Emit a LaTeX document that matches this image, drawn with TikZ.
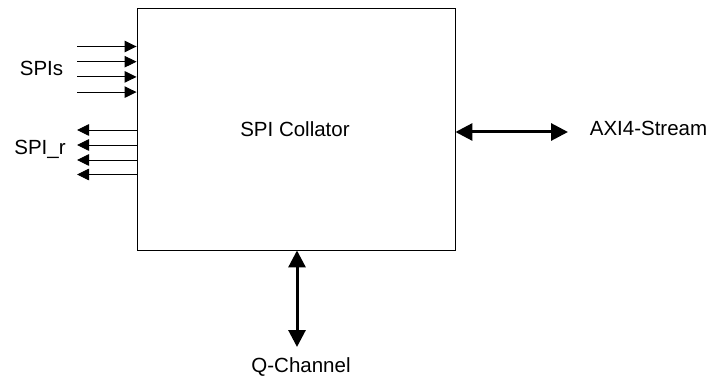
\documentclass[tikz,border=0pt]{standalone}
\usepackage{fontspec}
\setmainfont{Liberation Sans}
\usetikzlibrary{arrows.meta}
\begin{document}
\begin{tikzpicture}[x=1pt,y=1pt,
  lbl/.style={font=\fontsize{20.5}{24}\selectfont, inner sep=0pt, anchor=base},
  thinarrow/.style={line width=0.9pt, -{Triangle[length=12pt,width=11.5pt]}},
  thickarrow/.style={line width=3pt, {Triangle[length=17pt,width=17pt]}-{Triangle[length=17pt,width=17pt]}}]
\useasboundingbox (0,0) rectangle (723,386);
\node[draw, line width=0.9pt, minimum width=318, minimum height=242, inner sep=0pt] (box) at (296,257) {};
\node[lbl] (title) at (295,249.5) {SPI Collator};
\node[lbl] (spis) at (41.5,310) {SPIs};
\node[lbl] (spir) at (40,231.5) {SPI\_r};
\node[lbl] (axi) at (648.5,250) {AXI4-Stream};
\node[lbl] (qch) at (301,13.3) {Q-Channel};
% input arrows
\foreach \i/\y in {1/339.5, 2/324.3, 3/309.1, 4/293.9} {
  \coordinate (in\i) at (77,\y);
  \draw[thinarrow] (in\i) -- (in\i -| box.west);
}
% output arrows
\foreach \i/\y in {1/256, 2/241, 3/226, 4/211.5} {
  \coordinate (out\i) at (77,\y);
  \draw[thinarrow] (out\i -| box.west) -- (out\i);
}
\coordinate (axiend) at (568,254);
\draw[thickarrow] (axiend -| box.east) -- (axiend);
\coordinate (qend) at (297,39);
\draw[thickarrow] (qend |- box.south) -- (qend);
\end{tikzpicture}
\end{document}
